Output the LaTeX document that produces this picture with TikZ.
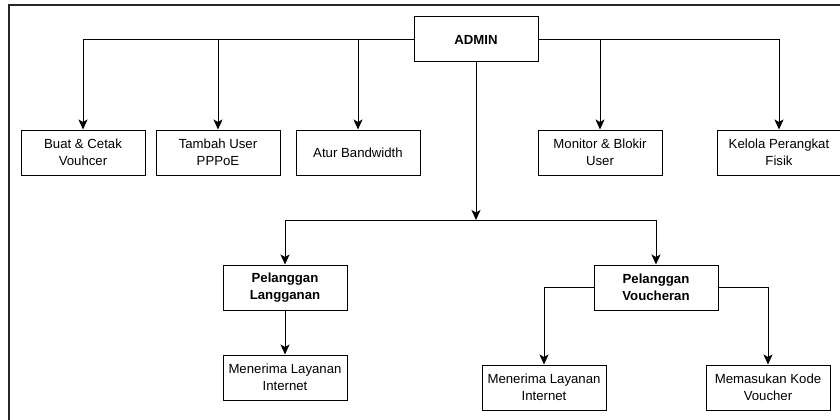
\documentclass[tikz,border=0pt]{standalone}
\usepackage{fontspec}
\setmainfont{Liberation Sans}
\usetikzlibrary{arrows.meta}
\tikzset{
  box/.style={draw=black, line width=1pt, minimum width=124pt, minimum height=45pt, align=center, inner sep=2pt, font=\fontsize{13.2}{17.3}\selectfont},
  boldbox/.style={box, font=\fontsize{13.2}{17.3}\selectfont\bfseries},
  arr/.style={draw=black, line width=1pt, -{Stealth[length=10pt,width=9pt,inset=2.5pt]}},
  frame/.style={draw=black!85, line width=2pt}
}
\begin{document}
\begin{tikzpicture}[x=1pt,y=-1pt]
\useasboundingbox (0,0) rectangle (840,420);
\draw[frame] (9,421) -- (9,5.5) -- (841,5.5);
\node[boldbox] (admin) at (476,39.5) {ADMIN};
\node[box] (b1) at (83,152.5) {Buat \& Cetak\\Vouhcer};
\node[box] (b2) at (218,152.5) {Tambah User\\PPPoE};
\node[box] (b3) at (358,152.5) {Atur Bandwidth};
\node[box] (b4) at (600,152.5) {Monitor \& Blokir\\User};
\node[box] (b5) at (779,152.5) {Kelola Perangkat\\Fisik};
\node[boldbox] (pl) at (285,287.5) {Pelanggan\\Langganan};
\node[boldbox] (pv) at (656,287.5) {Pelanggan\\Voucheran};
\node[box] (ml) at (285,377.5) {Menerima Layanan\\Internet};
\node[box] (mv) at (544,387.5) {Menerima Layanan\\Internet};
\node[box] (kv) at (768,387.5) {Memasukan Kode\\Voucher};
\coordinate (j) at (476,220);
\draw[arr] (admin.west) -| (b1.north);
\draw[arr] (admin.west) -| (b2.north);
\draw[arr] (admin.west) -| (b3.north);
\draw[arr] (admin.east) -| (b4.north);
\draw[arr] (admin.east) -| (b5.north);
\draw[arr] (admin.south) -- (j);
\draw[arr] (j) -| (pl.north);
\draw[arr] (j) -| (pv.north);
\draw[arr] (pl.south) -- (ml.north);
\draw[arr] (pv.west) -| (mv.north);
\draw[arr] (pv.east) -| (kv.north);
\end{tikzpicture}
\end{document}
